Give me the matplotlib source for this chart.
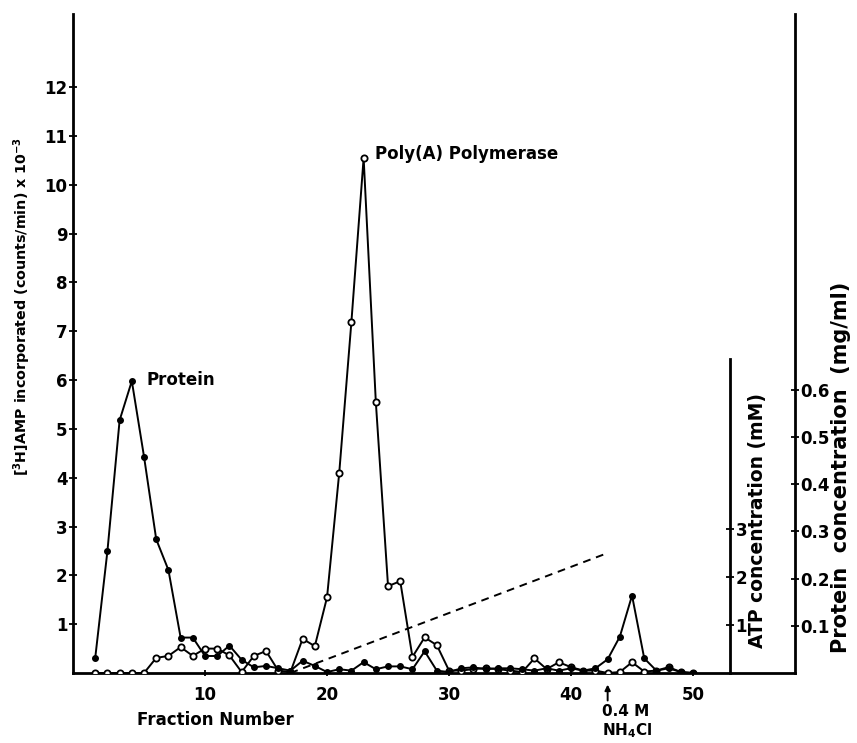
import matplotlib
matplotlib.use('Agg')
import matplotlib.pyplot as plt

# ---------------- data ----------------
fractions = list(range(1, 51))

# [3H]AMP incorporated (counts/min x 10^-3), open circles
activity = [0.0, 0.0, 0.0, 0.0, 0.0, 0.31, 0.35, 0.53, 0.35, 0.50,
            0.50, 0.36, 0.02, 0.35, 0.45, 0.05, 0.02, 0.70, 0.55, 1.55,
            4.10, 7.20, 10.55, 5.55, 1.78, 1.88, 0.33, 0.73, 0.57, 0.05,
            0.05, 0.08, 0.10, 0.08, 0.05, 0.02, 0.30, 0.08, 0.22, 0.12,
            0.05, 0.05, 0.00, 0.02, 0.22, 0.03, 0.05, 0.12, 0.02, 0.00]

# protein concentration (mg/ml), filled markers
protein = [0.032, 0.258, 0.535, 0.618, 0.458, 0.283, 0.218, 0.075, 0.075, 0.036,
           0.036, 0.058, 0.028, 0.012, 0.015, 0.010, 0.005, 0.026, 0.015, 0.002,
           0.008, 0.005, 0.023, 0.008, 0.014, 0.014, 0.008, 0.046, 0.005, 0.002,
           0.010, 0.012, 0.008, 0.010, 0.010, 0.008, 0.005, 0.010, 0.005, 0.010,
           0.005, 0.010, 0.029, 0.077, 0.164, 0.031, 0.005, 0.010, 0.002, 0.000]

# ATP gradient (dashed line)
atp_fraction = [17, 43]
atp_mM = [0.0, 2.5]

left_ticks = list(range(1, 13))
atp_ticks = [1, 2, 3]
protein_ticks = [0.1, 0.2, 0.3, 0.4, 0.5, 0.6]
protein_tick_labels = ['0.1', '0.2', '0.3', '0.4', '0.5', '0.6']
x_ticks = [10, 20, 30, 40, 50]

# ---------------- figure ----------------
plt.rcParams['font.family'] = ['DejaVu Sans']
plt.rcParams['font.weight'] = 'bold'
FS = 12

fig = plt.figure(figsize=(8.57, 7.43), dpi=100)
ax = fig.add_axes([0.0852, 0.0942, 0.8425, 0.887])
ax.set_xlim(-0.82, 58.36)
ax.set_ylim(0, 13.5)

for s in ['top', 'right']:
    ax.spines[s].set_visible(False)
for s in ['left', 'bottom']:
    ax.spines[s].set_linewidth(2.0)

ax.set_yticks(left_ticks)
ax.set_xticks(x_ticks)
ax.tick_params(axis='y', direction='inout', length=6, width=1.3,
               labelsize=FS, pad=1)
ax.tick_params(axis='x', direction='inout', length=5, width=1.3,
               labelsize=FS, pad=7)

# protein axis (outer right)
ax2 = ax.twinx()
ax2.set_ylim(0, 1.395)
for s in ['top', 'left', 'bottom']:
    ax2.spines[s].set_visible(False)
ax2.spines['right'].set_linewidth(2.0)
ax2.set_yticks(protein_ticks)
ax2.set_yticklabels(protein_tick_labels)
ax2.tick_params(axis='y', direction='inout', length=6, width=1.3,
                labelsize=FS, pad=1)

# ATP axis (inner right)
ax3 = ax.twinx()
ax3.set_ylim(0, 13.73)
for s in ['top', 'left', 'bottom']:
    ax3.spines[s].set_visible(False)
ax3.spines['right'].set_position(('data', 53.03))
ax3.spines['right'].set_bounds(0, 6.55)
ax3.spines['right'].set_linewidth(2.0)
ax3.set_yticks(atp_ticks)
ax3.tick_params(axis='y', direction='inout', length=6, width=1.3,
                labelsize=FS, pad=1)

# data lines
ax2.plot(fractions, protein, color='black', lw=1.4, marker='o', ms=4,
         mfc='black', mec='black', zorder=3)
ax.plot(fractions, activity, color='black', lw=1.4, marker='o', ms=4.5,
        mfc='white', mec='black', mew=1.3, zorder=4)
ax3.plot(atp_fraction, atp_mM, color='black', lw=1.4, ls=(0, (4, 3)))

# annotations
ax.text(5.2, 6.0, 'Protein', fontsize=FS, va='center', ha='left')
ax.text(23.9, 10.63, 'Poly(A) Polymerase', fontsize=FS, va='center', ha='left')
ax.annotate('', xy=(43, -0.18), xytext=(43, -0.62), annotation_clip=False,
            arrowprops=dict(arrowstyle='-|>', color='black', lw=1.4,
                            mutation_scale=8))
fig.text(602 / 857, 1 - 712 / 743, '0.4 M', fontsize=FS - 1, va='center', ha='left')
fig.text(602 / 857, 1 - 731 / 743, 'NH$_\\mathbf{4}$Cl', fontsize=FS - 1,
         va='center', ha='left')

fig.text(215 / 857, 1 - 720 / 743, 'Fraction Number', fontsize=FS,
         va='center', ha='center')
fig.text(22 / 857, 1 - 306 / 743,
         r'[$\mathbf{^3}$H]AMP incorporated (counts/min) x 10$\mathbf{^{-3}}$',
         fontsize=10.3, rotation=90, va='center', ha='center')
fig.text(757 / 857, 1 - 521 / 743, 'ATP concentration (mM)', fontsize=13.5,
         rotation=90, va='center', ha='center')
fig.text(841 / 857, 1 - 467 / 743, 'Protein  concentration  (mg/ml)', fontsize=15,
         rotation=90, va='center', ha='center')

fig.savefig('out.png', dpi=100)
